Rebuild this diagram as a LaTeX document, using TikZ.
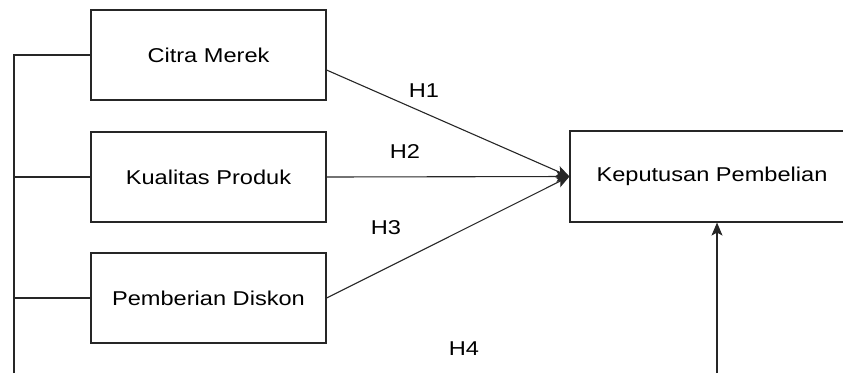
\documentclass[tikz,border=0pt]{standalone}
\usepackage{fontspec}
\setmainfont{Liberation Sans}[FakeStretch=1.18]
\usetikzlibrary{arrows.meta,calc}
\begin{document}
\begin{tikzpicture}[x=1pt,y=-1pt,
  box/.style={draw=black!85,line width=1.1pt,minimum width=235pt,minimum height=90pt,inner sep=0pt,font=\fontsize{20}{24}\selectfont},
  lbl/.style={font=\fontsize{20}{24}\selectfont},
  conn/.style={draw=black!85,line width=1.1pt},
  arr/.style={conn,-{Stealth[length=13pt,width=11pt,inset=3pt]}}]
\useasboundingbox (0,0) rectangle (843,373);
\node[box] (A) at (208.5,55) {Citra Merek};
\node[box] (B) at (208.5,177) {Kualitas Produk};
\node[box] (C) at (208.5,298) {Pemberian Diskon};
\node[box,minimum width=284pt,minimum height=91pt] (D) at (712,176.5) {Keputusan Pembelian};
\coordinate (L) at (14,373);
\coordinate (E) at (717,373);
\draw[arr] ([yshift=-15pt]A.east) -- (D.west);
\draw[arr] (B.east) -- (D.west);
\draw[arr] (C.east) -- (D.west);
\draw[arr] (E) -- (E |- D.south);
\draw[conn] (L) -- (L |- A.west) -- (A.west);
\draw[conn] (L |- B.west) -- (B.west);
\draw[conn] (L |- C.west) -- (C.west);
\node[lbl] (h1) at (424,91) {H1};
\node[lbl] (h2) at (405,152) {H2};
\node[lbl] (h3) at (386,228) {H3};
\node[lbl] (h4) at (464,349) {H4};
\end{tikzpicture}
\end{document}
